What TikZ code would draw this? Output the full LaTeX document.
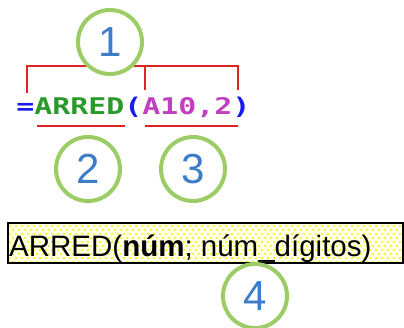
\documentclass[tikz,border=0pt]{standalone}
\usepackage{fontspec}
\setmainfont{Liberation Sans}
\newfontfamily\formulafont{DejaVu Sans Mono}
\definecolor{bracketred}{HTML}{E02424}
\definecolor{ringgreen}{HTML}{9CCC65}
\definecolor{numblue}{HTML}{3D7CC9}
\definecolor{eqblue}{HTML}{1A1AEE}
\definecolor{namegreen}{HTML}{2A9A2A}
\definecolor{argmagenta}{HTML}{C040C0}
\definecolor{tipfill}{HTML}{FFFFE6}
\definecolor{dotyellow}{HTML}{F5F000}
\tikzset{
  num/.style={circle,draw=ringgreen,line width=4pt,fill=white,minimum size=64pt,
    inner sep=0,text=numblue,font=\fontsize{42}{42}\selectfont},
}
\begin{document}
\begin{tikzpicture}[x=1pt,y=-1pt]
  \useasboundingbox (0,0) rectangle (404,328);
  % bracket over the whole function, lines under name and arguments
  \draw[bracketred,line width=2pt] (27,93) -- (27,66) -- (238,66) -- (238,90);
  \draw[bracketred,line width=2pt] (145,66) -- (145,90);
  \draw[bracketred,line width=2.5pt] (37,126) -- (125,126);
  \draw[bracketred,line width=2.5pt] (145,126) -- (238,126);
  % the formula
  \node[anchor=base west,inner sep=0,xscale=1.3] (formula) at (16,115)
    {\formulafont\bfseries\fontsize{23}{26}\selectfont
     \textcolor{eqblue}{=}\textcolor{namegreen}{ARRED}\textcolor{eqblue}{(}\textcolor{argmagenta}{A10,2}\textcolor{eqblue}{)}};
  % numbered rings
  \node[num] (n1) at (110,42) {1};
  \node[num] (n2) at (88,169) {2};
  \node[num] (n3) at (193,169) {3};
  % tooltip box with dotted fill
  \fill[tipfill] (8,223) rectangle (403,263);
  \begin{scope}
    \clip (9,224) rectangle (402,262);
    \foreach \r in {0,...,9}
      \foreach \c in {0,...,66} {
        \fill[dotyellow] ({10+6*\c+3*mod(\r,2)},{226+4*\r}) circle (1.2);
      }
  \end{scope}
  \draw[line width=2pt] (8,223) rectangle (403,263);
  \node[anchor=base west,inner sep=0,font=\fontsize{29.5}{32}\selectfont] (tip) at (9,256.5)
    {ARRED(\textbf{núm}; núm\_dígitos)};
  \node[num] (n4) at (255,296) {4};
\end{tikzpicture}
\end{document}
